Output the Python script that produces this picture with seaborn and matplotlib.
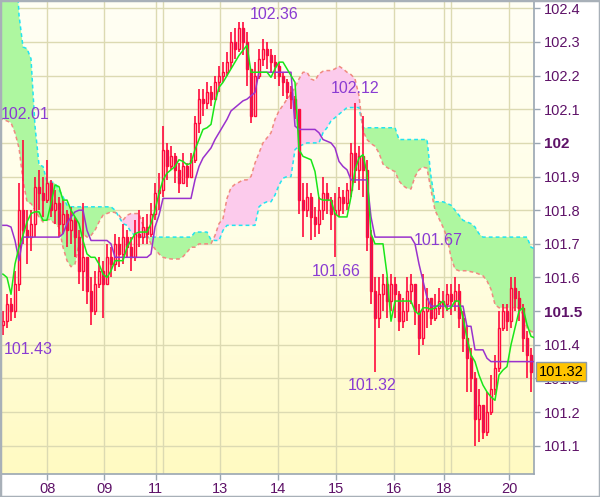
import numpy as np
import matplotlib
matplotlib.use("Agg")
import matplotlib.pyplot as plt
import seaborn as sns
from matplotlib.colors import LinearSegmentedColormap
from matplotlib.patches import Rectangle
from matplotlib.transforms import blended_transform_factory

# ---------------- data ----------------
open0 = 101.46
close = [101.47, 101.52, 101.50, 101.58, 101.80, 101.74, 101.72, 101.76, 101.87, 101.85,
         101.83, 101.88, 101.80, 101.82, 101.76, 101.79, 101.74, 101.77, 101.72, 101.62,
         101.66, 101.56, 101.50, 101.58, 101.62, 101.58, 101.66, 101.64, 101.70, 101.67,
         101.72, 101.69, 101.66, 101.73, 101.72, 101.75, 101.73, 101.79, 101.85, 101.86,
         101.98, 101.93, 101.96, 101.92, 101.88, 101.93, 101.90, 101.95, 102.06, 102.13,
         102.12, 102.15, 102.13, 102.18, 102.20, 102.21, 102.24, 102.30, 102.28, 102.34,
         102.30, 102.22, 102.08, 102.20, 102.25, 102.28, 102.26, 102.24, 102.23, 102.20,
         102.18, 102.15, 102.13, 102.10, 101.83, 101.80, 101.84, 101.78, 101.76, 101.80,
         101.85, 101.83, 101.79, 101.80, 101.84, 101.82, 101.86, 101.97, 101.92, 101.96,
         101.92, 101.72, 101.56, 101.48, 101.55, 101.58, 101.53, 101.58, 101.55, 101.47,
         101.50, 101.56, 101.58, 101.50, 101.42, 101.50, 101.54, 101.48, 101.51, 101.53,
         101.52, 101.55, 101.53, 101.56, 101.48, 101.42, 101.36, 101.30, 101.18, 101.22,
         101.14, 101.20, 101.27, 101.33, 101.45, 101.50, 101.47, 101.57, 101.54, 101.51,
         101.42, 101.37, 101.32]
high = [101.50, 101.55, 101.54, 101.62, 101.88, 102.01, 101.80, 101.80, 101.90, 101.92,
        101.90, 101.95, 101.89, 101.86, 101.84, 101.83, 101.80, 101.81, 101.78, 101.74,
        101.82, 101.66, 101.60, 101.62, 101.66, 101.65, 101.70, 101.69, 101.73, 101.72,
        101.76, 101.74, 101.72, 101.77, 101.80, 101.78, 101.79, 101.82, 101.88, 101.91,
        102.05, 102.00, 101.99, 101.97, 101.94, 101.97, 101.94, 101.97, 102.08, 102.16,
        102.16, 102.18, 102.17, 102.20, 102.23, 102.24, 102.27, 102.33, 102.34, 102.36,
        102.36, 102.33, 102.22, 102.24, 102.28, 102.31, 102.30, 102.28, 102.26, 102.24,
        102.21, 102.19, 102.17, 102.14, 102.10, 101.88, 101.88, 101.85, 101.81, 101.84,
        101.90, 101.88, 101.84, 101.85, 101.87, 101.86, 101.88, 102.00, 102.12, 101.99,
        102.08, 101.95, 101.74, 101.60, 101.60, 101.61, 101.60, 101.61, 101.60, 101.56,
        101.54, 101.60, 101.61, 101.58, 101.52, 101.61, 101.57, 101.54, 101.55, 101.57,
        101.56, 101.58, 101.58, 101.60, 101.58, 101.50, 101.46, 101.39, 101.32, 101.27,
        101.22, 101.26, 101.31, 101.37, 101.50, 101.52, 101.52, 101.60, 101.60, 101.56,
        101.52, 101.44, 101.39]
low = [101.43, 101.45, 101.47, 101.48, 101.56, 101.70, 101.64, 101.68, 101.72, 101.80,
       101.78, 101.82, 101.78, 101.76, 101.72, 101.73, 101.69, 101.70, 101.66, 101.58,
       101.56, 101.52, 101.46, 101.49, 101.57, 101.48, 101.58, 101.60, 101.62, 101.63,
       101.64, 101.66, 101.62, 101.65, 101.69, 101.70, 101.70, 101.72, 101.77, 101.80,
       101.84, 101.89, 101.92, 101.88, 101.85, 101.88, 101.87, 101.90, 101.94, 102.03,
       102.08, 102.10, 102.11, 102.13, 102.15, 102.18, 102.20, 102.22, 102.25, 102.27,
       102.26, 102.17, 102.06, 102.10, 102.19, 102.23, 102.22, 102.21, 102.19, 102.17,
       102.14, 102.13, 102.10, 102.07, 101.79, 101.72, 101.78, 101.71, 101.72, 101.73,
       101.77, 101.79, 101.74, 101.66, 101.78, 101.79, 101.80, 101.84, 101.88, 101.86,
       101.84, 101.68, 101.52, 101.32, 101.45, 101.50, 101.48, 101.50, 101.48, 101.44,
       101.45, 101.47, 101.52, 101.46, 101.37, 101.40, 101.45, 101.46, 101.47, 101.49,
       101.48, 101.50, 101.49, 101.50, 101.45, 101.38, 101.26, 101.26, 101.10, 101.11,
       101.12, 101.13, 101.19, 101.25, 101.32, 101.44, 101.44, 101.45, 101.50, 101.47,
       101.38, 101.30, 101.26]

# Ichimoku lines, one value per bar slot from -1 to 133
tenkan = [101.61, 101.61, 101.60, 101.55, 101.64, 101.69, 101.725, 101.765, 101.79, 101.795,
          101.795, 101.77, 101.77, 101.82, 101.875, 101.87, 101.83, 101.83, 101.80, 101.78,
          101.76, 101.71, 101.67, 101.66, 101.66, 101.64, 101.61, 101.60, 101.62, 101.65,
          101.65, 101.65, 101.69, 101.71, 101.73, 101.735, 101.735, 101.735, 101.76, 101.80,
          101.85, 101.89, 101.91, 101.92, 101.93, 101.95, 101.945, 101.935, 101.94, 101.98,
          102.01, 102.04, 102.045, 102.055, 102.12, 102.165, 102.18, 102.20, 102.22, 102.24,
          102.26, 102.275, 102.29, 102.21, 102.21, 102.21, 102.21, 102.21, 102.195, 102.22,
          102.24, 102.24, 102.22, 102.20, 102.18, 101.98, 101.96, 101.955, 101.95, 101.915,
          101.835, 101.83, 101.83, 101.83, 101.79, 101.78, 101.78, 101.78, 101.84, 101.92,
          101.955, 101.965, 101.91, 101.73, 101.70, 101.70, 101.70, 101.61, 101.47, 101.53,
          101.53, 101.53, 101.53, 101.53, 101.50, 101.49, 101.51, 101.51, 101.505, 101.51,
          101.52, 101.53, 101.505, 101.51, 101.53, 101.53, 101.48, 101.42, 101.37, 101.35,
          101.31, 101.28, 101.26, 101.245, 101.235, 101.31, 101.325, 101.335, 101.40, 101.45,
          101.50, 101.51, 101.46, 101.425, 101.42]
kijun = [101.755, 101.755, 101.755, 101.75, 101.71, 101.65, 101.72, 101.72, 101.72, 101.72,
         101.72, 101.72, 101.72, 101.72, 101.72, 101.72, 101.73, 101.76, 101.78, 101.795,
         101.80, 101.80, 101.74, 101.71, 101.71, 101.71, 101.71, 101.71, 101.70, 101.66,
         101.66, 101.66, 101.66, 101.66, 101.66, 101.66, 101.66, 101.66, 101.67, 101.75,
         101.785, 101.835, 101.835, 101.835, 101.835, 101.835, 101.835, 101.835, 101.835, 101.89,
         101.93, 101.955, 101.97, 101.985, 102.01, 102.03, 102.05, 102.07, 102.095, 102.105,
         102.115, 102.125, 102.13, 102.14, 102.15, 102.21, 102.21, 102.21, 102.21, 102.21,
         102.21, 102.21, 102.21, 102.21, 102.05, 102.04, 102.04, 102.04, 102.04, 102.04,
         102.03, 102.01, 102.005, 102.00, 101.985, 101.945, 101.93, 101.92, 101.89, 101.89,
         101.89, 101.89, 101.89, 101.78, 101.72, 101.72, 101.72, 101.72, 101.72, 101.72,
         101.72, 101.72, 101.72, 101.72, 101.70, 101.64, 101.59, 101.54, 101.515, 101.515,
         101.515, 101.515, 101.515, 101.515, 101.515, 101.515, 101.515, 101.455, 101.455, 101.385,
         101.385, 101.385, 101.36, 101.35, 101.35, 101.35, 101.35, 101.35, 101.35, 101.35,
         101.35, 101.35, 101.35, 101.35, 101.35]
span_a = [102.60, 102.60, 102.60, 102.60, 102.60, 102.38, 102.285, 102.28, 102.25, 102.05,
          101.935, 101.93, 101.885, 101.885, 101.88, 101.86, 101.84, 101.815, 101.81, 101.81,
          101.81, 101.81, 101.81, 101.81, 101.81, 101.81, 101.81, 101.81, 101.81, 101.80,
          101.78, 101.76, 101.755, 101.735, 101.725, 101.72, 101.72, 101.72, 101.72, 101.72,
          101.72, 101.72, 101.72, 101.72, 101.72, 101.72, 101.72, 101.72, 101.72, 101.735,
          101.735, 101.735, 101.735, 101.712, 101.71, 101.71, 101.74, 101.755, 101.755, 101.755,
          101.755, 101.755, 101.755, 101.755, 101.755, 101.81, 101.82, 101.825, 101.825, 101.845,
          101.875, 101.895, 101.90, 101.90, 101.98, 101.99, 101.995, 102.00, 102.00, 102.00,
          102.00, 102.03, 102.045, 102.065, 102.075, 102.085, 102.095, 102.105, 102.105, 102.105,
          102.105, 102.045, 102.045, 102.045, 102.045, 102.045, 102.045, 102.045, 102.045, 102.045,
          102.01, 102.01, 102.01, 102.01, 102.01, 102.01, 102.01, 102.01, 101.90, 101.825,
          101.825, 101.825, 101.82, 101.815, 101.80, 101.785, 101.77, 101.765, 101.76, 101.75,
          101.73, 101.72, 101.72, 101.72, 101.72, 101.72, 101.72, 101.72, 101.72, 101.72,
          101.72, 101.72, 101.72, 101.69, 101.685]
span_b = [102.07, 102.07, 102.065, 102.06, 102.03, 101.985, 101.89, 101.825, 101.82, 101.80,
          101.78, 101.765, 101.773, 101.77, 101.76, 101.75, 101.69, 101.65, 101.632, 101.64,
          101.70, 101.73, 101.72, 101.725, 101.74, 101.765, 101.785, 101.79, 101.795, 101.793,
          101.785, 101.77, 101.785, 101.79, 101.79, 101.79, 101.755, 101.725, 101.70, 101.685,
          101.67, 101.66, 101.657, 101.655, 101.655, 101.655, 101.662, 101.675, 101.69, 101.69,
          101.70, 101.70, 101.70, 101.70, 101.725, 101.76, 101.775, 101.835, 101.867, 101.877,
          101.883, 101.89, 101.89, 101.90, 101.94, 101.97, 102.00, 102.015, 102.03, 102.07,
          102.095, 102.112, 102.13, 102.145, 102.165, 102.19, 102.21, 102.21, 102.19, 102.185,
          102.205, 102.213, 102.215, 102.215, 102.22, 102.228, 102.22, 102.21, 102.203, 102.19,
          102.14, 102.035, 102.01, 101.998, 101.99, 101.97, 101.937, 101.927, 101.92, 101.915,
          101.887, 101.873, 101.865, 101.863, 101.90, 101.92, 101.928, 101.925, 101.86, 101.80,
          101.775, 101.75, 101.72, 101.66, 101.625, 101.62, 101.62, 101.62, 101.617, 101.615,
          101.61, 101.605, 101.59, 101.565, 101.52, 101.51, 101.51, 101.51, 101.51, 101.51,
          101.51, 101.49, 101.45, 101.44, 101.435]

date_labels = ["08", "09", "11", "13", "14", "15", "16", "18", "20"]
date_pos = [11.1, 25.3, 38.2, 54.35, 68.8, 83.15, 97.7, 110.25, 126.5]
week_pos = [39.9, 112.1]

price_ticks = [101.1, 101.2, 101.3, 101.4, 101.5, 101.6, 101.7, 101.8, 101.9,
               102.0, 102.1, 102.2, 102.3, 102.4]
price_labels = ["101.1", "101.2", "101.3", "101.4", "101.5", "101.6", "101.7", "101.8",
                "101.9", "102", "102.1", "102.2", "102.3", "102.4"]
bold_labels = ["102", "101.5"]

pivot_text = ["102.01", "101.43", "102.36", "102.12", "101.66", "101.32", "101.67"]
pivot_bar = [-0.5, 0.25, 67.75, 88.1, 83.25, 92.4, 108.7]
pivot_price = [102.083, 101.385, 102.383, 102.163, 101.617, 101.278, 101.711]
pivot_align = ["left", "left", "center", "center", "center", "center", "center"]

last_price = 101.32

# ---------------- style ----------------
sns.set_style("white")
plt.rcParams["font.family"] = ["Liberation Sans", "DejaVu Sans"]

RED = "#FF0A3C"
BEAR_FILL = "#B02A78"
GREEN_LINE = "#19E619"
PURPLE_LINE = "#9A32CD"
CYAN = "#22E4F0"
SALMON = "#F08A80"
CLOUD_GREEN = "#AEF7A0"
CLOUD_PINK = "#FCCBEC"
GRID = "#DCDAB2"
LABEL_PURPLE = "#8A3CD2"
TICK_COL = "#5E1268"
AXIS_COL = "#9AA6B2"

XMIN, XMAX = -0.75, 132.75
YMIN, YMAX = 101.016, 102.4217

fig = plt.figure(figsize=(6.0, 4.97), dpi=100, facecolor="white")
ax = fig.add_axes([0.0, 23 / 497, 534 / 600, 473 / 497])

# background gradient
cmap = LinearSegmentedColormap.from_list("bg", ["#FFFAC2", "#FFFEE6", "#FFFFF4"])
grad = np.linspace(0, 1, 256).reshape(-1, 1)
ax.imshow(grad, extent=[XMIN, XMAX, YMIN, YMAX], origin="lower", aspect="auto",
          cmap=cmap, zorder=0, interpolation="bicubic")

# grid
for p in price_ticks:
    ax.axhline(p, color=GRID, lw=1, zorder=1)
for xp in date_pos + week_pos:
    ax.axvline(xp, color=GRID, lw=1, zorder=1)

# cloud
lx = np.arange(-1, len(tenkan) - 1)
A = np.array(span_a)
B = np.array(span_b)
ax.fill_between(lx, A, B, where=A >= B, interpolate=True, color=CLOUD_GREEN, lw=0, zorder=2)
ax.fill_between(lx, A, B, where=B > A, interpolate=True, color=CLOUD_PINK, lw=0, zorder=2)
sns.lineplot(x=lx, y=A, ax=ax, color=CYAN, lw=1.1, linestyle=(0, (2.5, 2)), zorder=3)
sns.lineplot(x=lx, y=B, ax=ax, color=SALMON, lw=1.1, linestyle=(0, (2.5, 2)), zorder=3)

# candles
c = np.array(close)
o = np.r_[open0, c[:-1]]
h = np.maximum(np.array(high), np.maximum(o, c))
l = np.minimum(np.array(low), np.minimum(o, c))
xs = np.arange(len(c))
up = c >= o
ax.vlines(xs, l, h, color=RED, lw=1.2, zorder=4)
ax.bar(xs[up], (c - o)[up], bottom=o[up], width=0.72, facecolor="#FFF0E0",
       edgecolor=RED, lw=1.0, zorder=4.5)
ax.bar(xs[~up], (o - c)[~up], bottom=c[~up], width=0.72, facecolor=BEAR_FILL,
       edgecolor=RED, lw=1.0, zorder=4.5)

# tenkan / kijun
sns.lineplot(x=lx, y=np.array(kijun), ax=ax, color=PURPLE_LINE, lw=1.1, zorder=5)
sns.lineplot(x=lx, y=np.array(tenkan), ax=ax, color=GREEN_LINE, lw=1.1, zorder=6)

# pivot labels
for t, xb, yp, ha in zip(pivot_text, pivot_bar, pivot_price, pivot_align):
    ax.text(xb, yp, t, color=LABEL_PURPLE, fontsize=11.5, ha=ha, va="center", zorder=8)

ax.set_xlim(XMIN, XMAX)
ax.set_ylim(YMIN, YMAX)

# axes cosmetics
for s in ["left", "top"]:
    ax.spines[s].set_visible(False)
for s in ["right", "bottom"]:
    ax.spines[s].set_color(AXIS_COL)
    ax.spines[s].set_linewidth(1.2)

ax.yaxis.tick_right()
ax.set_yticks(price_ticks)
ax.set_yticklabels(price_labels)
ax.set_xticks(date_pos)
ax.set_xticklabels(date_labels)
ax.tick_params(axis="y", right=True, left=False, length=4, width=1, color=AXIS_COL,
               pad=3, labelsize=10.5, labelcolor=TICK_COL)
ax.tick_params(axis="x", bottom=True, length=4, width=1, color=AXIS_COL,
               pad=2, labelsize=10.5, labelcolor=TICK_COL)
for lab in ax.get_yticklabels():
    if lab.get_text() in bold_labels:
        lab.set_fontweight("bold")
        lab.set_fontsize(11)
ax.set_xlabel("")
ax.set_ylabel("")

# current price box (covers the 101.3 tick label as in the original)
trans = blended_transform_factory(ax.transAxes, ax.transData)
ax.text(1.0 + 5 / 534, last_price, f"{last_price:.2f}", transform=trans, ha="left",
        va="center", fontsize=10.5, color="black", zorder=20, clip_on=False,
        bbox=dict(boxstyle="square,pad=0.18", fc="#FFC400", ec="#8C9AA8", lw=1))

# outer frame
fig.add_artist(Rectangle((0, 0), 1, 1, transform=fig.transFigure, fill=False,
                         ec="#A8B0B8", lw=2.5))

fig.savefig("out.png", dpi=100, facecolor="white")
